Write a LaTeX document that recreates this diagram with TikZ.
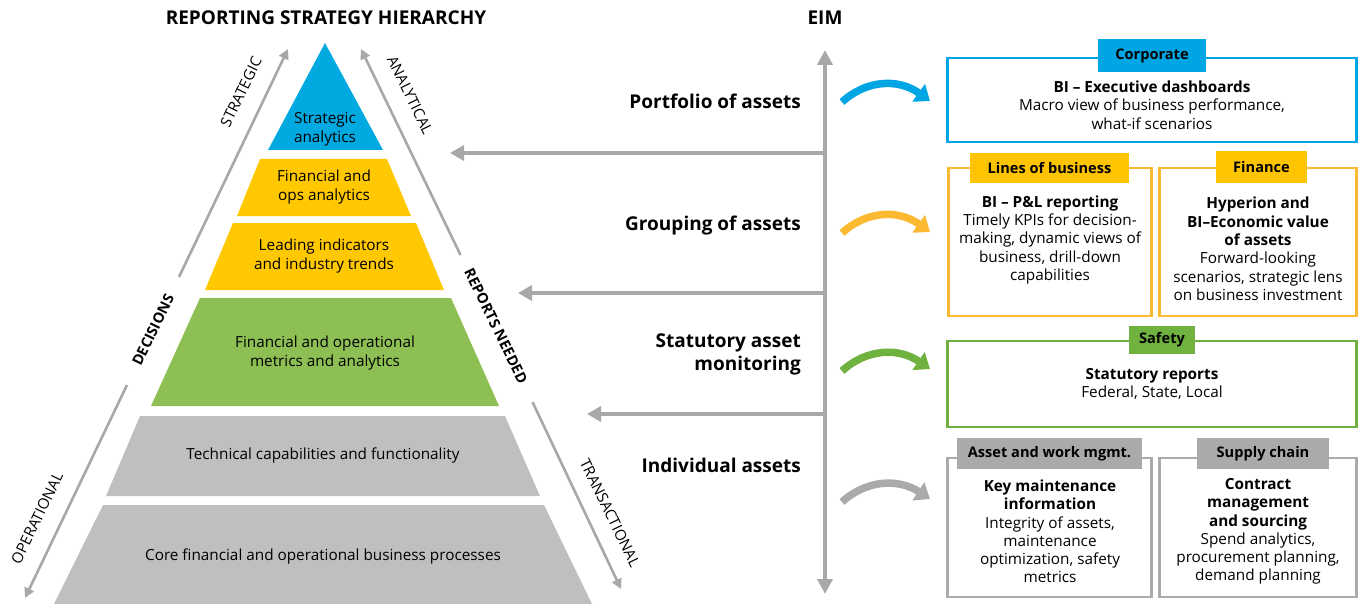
\documentclass[tikz,border=0pt]{standalone}
\usepackage{fontspec}
\setmainfont{Open Sans}
\usetikzlibrary{arrows.meta}
\definecolor{pblue}{RGB}{0,169,224}
\definecolor{pyellow}{RGB}{255,200,0}
\definecolor{pgreen}{RGB}{141,191,84}
\definecolor{pgray}{RGB}{191,191,191}
\definecolor{agray}{RGB}{168,168,168}
\definecolor{bblue}{RGB}{0,166,228}
\definecolor{borange}{RGB}{251,186,50}
\definecolor{tyellow}{RGB}{255,196,0}
\definecolor{bgreen}{RGB}{112,178,64}
\definecolor{bgray}{RGB}{170,170,170}
\tikzset{
  ptext/.style={font=\fontsize{15.3}{19}\selectfont, align=center, text=black, inner sep=0},
  head/.style={font=\bfseries\fontsize{19}{23}\selectfont, align=right, anchor=east, inner sep=0},
  title/.style={font=\bfseries\fontsize{19}{23}\selectfont, inner sep=0},
  garrow/.style={draw=agray, line width=4pt, -{Triangle[width=15pt,length=14pt]}},
  diagarrow/.style={draw=agray, line width=2.6pt, -{Triangle[width=10pt,length=10pt]}},
  rlabel/.style={font=\fontsize{15}{18}\selectfont, inner sep=0},
  rblabel/.style={font=\bfseries\fontsize{14.5}{18}\selectfont, inner sep=0},
  curved/.style={line width=7.5pt, -{Triangle[width=21pt,length=14pt]}},
  frame/.style={draw, line width=2.6pt, fill=white, inner sep=0},
  tab/.style={font=\bfseries\fontsize{14.6}{17}\selectfont, inner sep=0, text=black},
  body/.style={font=\fontsize{15.3}{18.3}\selectfont, align=center, inner sep=0},
}
\begin{document}
\begin{tikzpicture}[x=1pt,y=-1pt]
\useasboundingbox (0,0) rectangle (1359,604);

% ---------- Pyramid ----------
\fill[pblue]   (325,43) -- (383,150) -- (268,150) -- cycle;
\fill[pyellow] (260,159) -- (387,159) -- (411,216) -- (237,216) -- cycle;
\fill[pyellow] (233,223) -- (416,223) -- (444,290) -- (205,290) -- cycle;
\fill[pgreen]  (200,298) -- (451,298) -- (499,406) -- (151,406) -- cycle;
\fill[pgray]   (140,416) -- (505,416) -- (540,496) -- (106,496) -- cycle;
\fill[pgray]   (103,505) -- (544,505) -- (592,604) -- (54,604) -- cycle;

\node[ptext] (p1) at (325,129) {Strategic\\analytics};
\node[ptext] (p2) at (324,187.5) {Financial and\\ops analytics};
\node[ptext] (p3) at (324,256) {Leading indicators\\and industry trends};
\node[ptext] (p4) at (325,353.5) {Financial and operational\\metrics and analytics};
\node[ptext] (p5) at (323,455) {Technical capabilities and functionality};
\node[ptext] (p6) at (323,556) {Core financial and operational business processes};

\node[title] (t1) at (326,18) {REPORTING STRATEGY HIERARCHY};

% diagonal arrows
\coordinate (sa0) at (179,277); \coordinate (sa1) at (288,49);
\coordinate (aa0) at (460.5,255); \coordinate (aa1) at (361,49);
\coordinate (oa0) at (127,385); \coordinate (oa1) at (25,598);
\coordinate (ta0) at (532.5,402); \coordinate (ta1) at (621,589);
\draw[diagarrow] (sa0) -- (sa1);
\draw[diagarrow] (aa0) -- (aa1);
\draw[diagarrow] (oa0) -- (oa1);
\draw[diagarrow] (ta0) -- (ta1);

\node[rlabel, rotate=64]  (lstr) at (241,92) {STRATEGIC};
\node[rlabel, rotate=-64] (lana) at (410,95) {ANALYTICAL};
\node[rblabel, rotate=64] (ldec) at (153,330) {DECISIONS};
\node[rblabel, rotate=-64] (lrep) at (496,326) {REPORTS NEEDED};
\node[rlabel, rotate=64]  (lope) at (37,518) {OPERATIONAL};
\node[rlabel, rotate=-64] (ltra) at (610,513) {TRANSACTIONAL};

% ---------- EIM axis ----------
\node[title] (eim) at (825,18) {EIM};
\coordinate (vtop) at (825,50);
\coordinate (vbot) at (825,594);
\draw[draw=agray, line width=4pt, {Triangle[width=15pt,length=15pt]}-{Triangle[width=15pt,length=15pt]}] (vtop) -- (vbot);
\coordinate (h1) at (825,153); \coordinate (h1e) at (450,153);
\coordinate (h2) at (825,293); \coordinate (h2e) at (518,293);
\coordinate (h3) at (825,414); \coordinate (h3e) at (587,414);
\draw[garrow] (h1) -- (h1e);
\draw[garrow] (h2) -- (h2e);
\draw[garrow] (h3) -- (h3e);

\node[head] (g1) at (801,101) {Portfolio of assets};
\node[head] (g2) at (801,226) {Grouping of assets};
\node[head] (g3) at (801,354) {Statutory asset\\monitoring};
\node[head] (g4) at (801,465) {Individual assets};

% ---------- Boxes ----------
\node[frame, draw=bblue, minimum width=409pt, minimum height=84pt] (bcorp) at (1152,100) {};
\node[frame, draw=borange, minimum width=203pt, minimum height=148pt] (blob) at (1050,242) {};
\node[frame, draw=borange, minimum width=197pt, minimum height=148pt] (bfin) at (1258,242) {};
\node[frame, draw=bgreen, minimum width=409pt, minimum height=86pt] (bsaf) at (1152,384) {};
\node[frame, draw=bgray, minimum width=204pt, minimum height=139pt] (bast) at (1049.5,527.5) {};
\node[frame, draw=bgray, minimum width=197pt, minimum height=139pt] (bsup) at (1258,527.5) {};

\node[tab, fill=bblue, minimum width=108pt, minimum height=33pt] (tcorp) at (1152,55.5) {Corporate};
\node[tab, fill=tyellow, minimum width=159pt, minimum height=30pt] (tlob) at (1049.5,168) {Lines of business};
\node[tab, fill=tyellow, minimum width=91pt, minimum height=32pt] (tfin) at (1261.5,167) {Finance};
\node[tab, fill=bgreen, minimum width=66pt, minimum height=28pt] (tsaf) at (1162,340) {Safety};
\node[tab, fill=bgray, minimum width=185pt, minimum height=31pt] (tast) at (1049.5,453.5) {Asset and work mgmt.};
\node[tab, fill=bgray, minimum width=132pt, minimum height=31pt] (tsup) at (1263,453.5) {Supply chain};

\node[body] (xcorp) at (1152,105) {\textbf{BI – Executive dashboards}\\Macro view of business performance,\\what-if scenarios};
\node[body] (xlob) at (1050,240) {\textbf{BI – P\&L reporting}\\Timely KPIs for decision-\\making, dynamic views of\\business, drill-down\\capabilities};
\node[body] (xfin) at (1258,249) {\textbf{Hyperion and}\\\textbf{BI–Economic value}\\\textbf{of assets}\\Forward-looking\\scenarios, strategic lens\\on business investment};
\node[body] (xsaf) at (1152,384) {\textbf{Statutory reports}\\Federal, State, Local};
\node[body] (xast) at (1050,531.5) {\textbf{Key maintenance}\\\textbf{information}\\Integrity of assets,\\maintenance\\optimization, safety\\metrics};
\node[body] (xsup) at (1258,531.5) {\textbf{Contract}\\\textbf{management}\\\textbf{and sourcing}\\Spend analytics,\\procurement planning,\\demand planning};

% ---------- Curved arrows ----------
\coordinate (c1s) at (842,102); \coordinate (c1e) at (930,101);
\coordinate (c2s) at (842,233); \coordinate (c2e) at (930,232);
\coordinate (c3s) at (842,371); \coordinate (c3e) at (930,369);
\coordinate (c4s) at (842,502); \coordinate (c4e) at (930,499);
\draw[curved, draw=bblue] (c1s) .. controls (866,80) and (898,78) .. (c1e);
\draw[curved, draw=borange] (c2s) .. controls (866,211) and (898,209) .. (c2e);
\draw[curved, draw=bgreen] (c3s) .. controls (866,349) and (898,347) .. (c3e);
\draw[curved, draw=bgray] (c4s) .. controls (866,480) and (898,478) .. (c4e);
\end{tikzpicture}
\end{document}
